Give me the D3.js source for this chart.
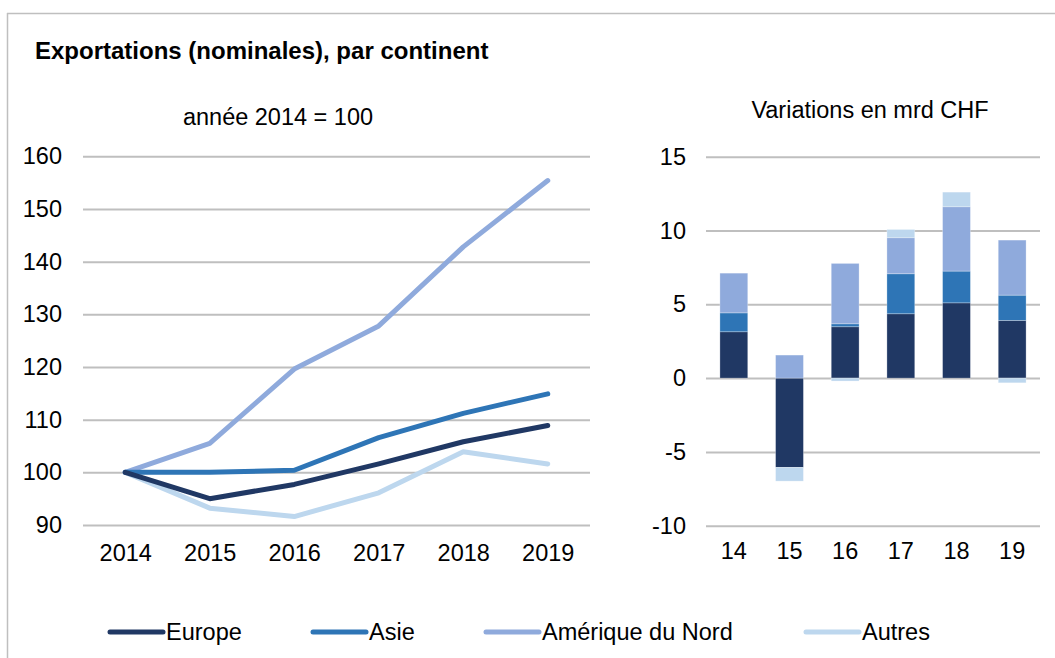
<!DOCTYPE html>
<html>
<head>
<meta charset="utf-8">
<script src="https://cdn.jsdelivr.net/npm/d3@7"></script>
<style>
  body { margin: 0; background: #fff; }
  svg { font-family: "Liberation Sans", Arial, sans-serif; }
</style>
</head>
<body>
<div id="wrapper"></div>
<script>
// Data
const years = ["2014", "2015", "2016", "2017", "2018", "2019"];
const shortYears = ["14", "15", "16", "17", "18", "19"];
const seriesNames = ["Europe", "Asie", "Amérique du Nord", "Autres"];
const colors = ["#203864", "#2E75B6", "#8FAADC", "#BDD7EE"];

// index 2014 = 100
const europeIdx = [100, 95.0, 97.7, 101.6, 105.8, 108.9];
const asieIdx = [100, 100.0, 100.4, 106.6, 111.2, 114.9];
const ameriqueIdx = [100, 105.5, 119.6, 127.8, 142.8, 155.4];
const autresIdx = [100, 93.2, 91.6, 96.1, 103.9, 101.6];

// variations en mrd CHF
const europeVar = [3.14, -6.05, 3.48, 4.36, 5.10, 3.91];
const asieVar = [1.28, 0.0, 0.20, 2.71, 2.15, 1.71];
const ameriqueVar = [2.69, 1.56, 4.09, 2.44, 4.36, 3.73];
const autresVar = [0.0, -0.93, -0.20, 0.56, 0.99, -0.32];

const leftTicks = [90, 100, 110, 120, 130, 140, 150, 160];
const rightTicks = [-10, -5, 0, 5, 10, 15];

const width = 1055, height = 658;
const gridColor = "#BFBFBF";
const fontSize = 23.5;
const fontFamily = "Liberation Sans, Arial, sans-serif";

const svg = d3.select("#wrapper")
    .append("svg")
    .attr("width", width)
    .attr("height", height);

// frame (top + left)
svg.append("line")
    .attr("x1", 7).attr("x2", width).attr("y1", 13.5).attr("y2", 13.5)
    .attr("stroke", gridColor).attr("stroke-width", 1.5);
svg.append("line")
    .attr("x1", 7.5).attr("x2", 7.5).attr("y1", 13).attr("y2", height)
    .attr("stroke", gridColor).attr("stroke-width", 1.5);

svg.append("text")
    .attr("x", 35).attr("y", 59)
    .text("Exportations (nominales), par continent")
    .attr("font-weight", "bold")
    .attr("font-size", "24px");

function styleTicks(g) {
    g.select(".domain").remove();
    g.selectAll(".tick line").attr("stroke", gridColor).attr("stroke-width", 2);
    g.selectAll(".tick text")
        .attr("font-size", fontSize + "px")
        .attr("font-family", fontFamily)
        .attr("fill", "#000");
}

// ---------- left: line chart ----------
const xLeft = d3.scalePoint()
    .domain(years)
    .range([83, 590])
    .padding(0.5);

const yLeft = d3.scaleLinear()
    .domain([90, 160])
    .range([525, 156.3]);

svg.append("text")
    .attr("x", 278).attr("y", 125)
    .attr("text-anchor", "middle")
    .attr("font-size", fontSize + "px")
    .text("année 2014 = 100");

svg.append("g")
    .attr("transform", "translate(83,0)")
    .call(d3.axisLeft(yLeft).tickValues(leftTicks).tickFormat(d => String(d))
        .tickSize(-(590 - 83)).tickPadding(21))
    .call(styleTicks);

svg.append("g")
    .attr("transform", "translate(0,525)")
    .call(d3.axisBottom(xLeft).tickSize(0).tickPadding(19))
    .call(styleTicks);

const lineSeries = [europeIdx, asieIdx, ameriqueIdx, autresIdx];
const lineGen = d3.line()
    .x((d, i) => xLeft(years[i]))
    .y(d => yLeft(d));

// draw order: Autres underneath, then others
[3, 2, 1, 0].forEach(k => {
    svg.append("path")
        .attr("d", lineGen(lineSeries[k]))
        .attr("fill", "none")
        .attr("stroke", colors[k])
        .attr("stroke-width", 5)
        .attr("stroke-linecap", "round")
        .attr("stroke-linejoin", "round");
});

// ---------- right: stacked bars ----------
const xRight = d3.scaleBand()
    .domain(shortYears)
    .range([706, 1040])
    .paddingInner(0.5)
    .paddingOuter(0.25);

const yRight = d3.scaleLinear()
    .domain([-10, 15])
    .range([525.7, 156.7]);

svg.append("text")
    .attr("x", 870).attr("y", 118)
    .attr("text-anchor", "middle")
    .attr("font-size", fontSize + "px")
    .text("Variations en mrd CHF");

svg.append("g")
    .attr("transform", "translate(706,0)")
    .call(d3.axisLeft(yRight).tickValues(rightTicks).tickFormat(d => String(d))
        .tickSize(-(1040 - 706)).tickPadding(20))
    .call(styleTicks);

svg.append("g")
    .attr("transform", "translate(0,525.7)")
    .call(d3.axisBottom(xRight).tickSize(0).tickPadding(17))
    .call(styleTicks);

const barTable = shortYears.map((y, i) => ({
    year: y,
    "Europe": europeVar[i],
    "Asie": asieVar[i],
    "Amérique du Nord": ameriqueVar[i],
    "Autres": autresVar[i]
}));

const stacked = d3.stack()
    .keys(seriesNames)
    .offset(d3.stackOffsetDiverging)(barTable);

const barGroups = svg.append("g")
    .selectAll("g")
    .data(stacked)
    .join("g")
    .attr("fill", (d, i) => colors[i]);

barGroups.selectAll("rect")
    .data(d => d)
    .join("rect")
    .attr("x", d => xRight(d.data.year))
    .attr("width", xRight.bandwidth())
    .attr("y", d => yRight(Math.max(d[0], d[1])))
    .attr("height", d => Math.abs(yRight(d[0]) - yRight(d[1])))
    .attr("stroke", "#ffffff")
    .attr("stroke-opacity", 0.35)
    .attr("stroke-width", 0.8);

// ---------- legend ----------
const legendX = [108, 311, 484, 804];
const legend = svg.append("g")
    .selectAll("g")
    .data(seriesNames)
    .join("g")
    .attr("transform", (d, i) => `translate(${legendX[i]},632)`);

legend.append("line")
    .attr("x1", 2).attr("x2", 55)
    .attr("stroke", (d, i) => colors[i])
    .attr("stroke-width", 5)
    .attr("stroke-linecap", "round");

legend.append("text")
    .attr("x", 58)
    .attr("dy", "0.35em")
    .attr("font-size", fontSize + "px")
    .text(d => d);
</script>
</body>
</html>
